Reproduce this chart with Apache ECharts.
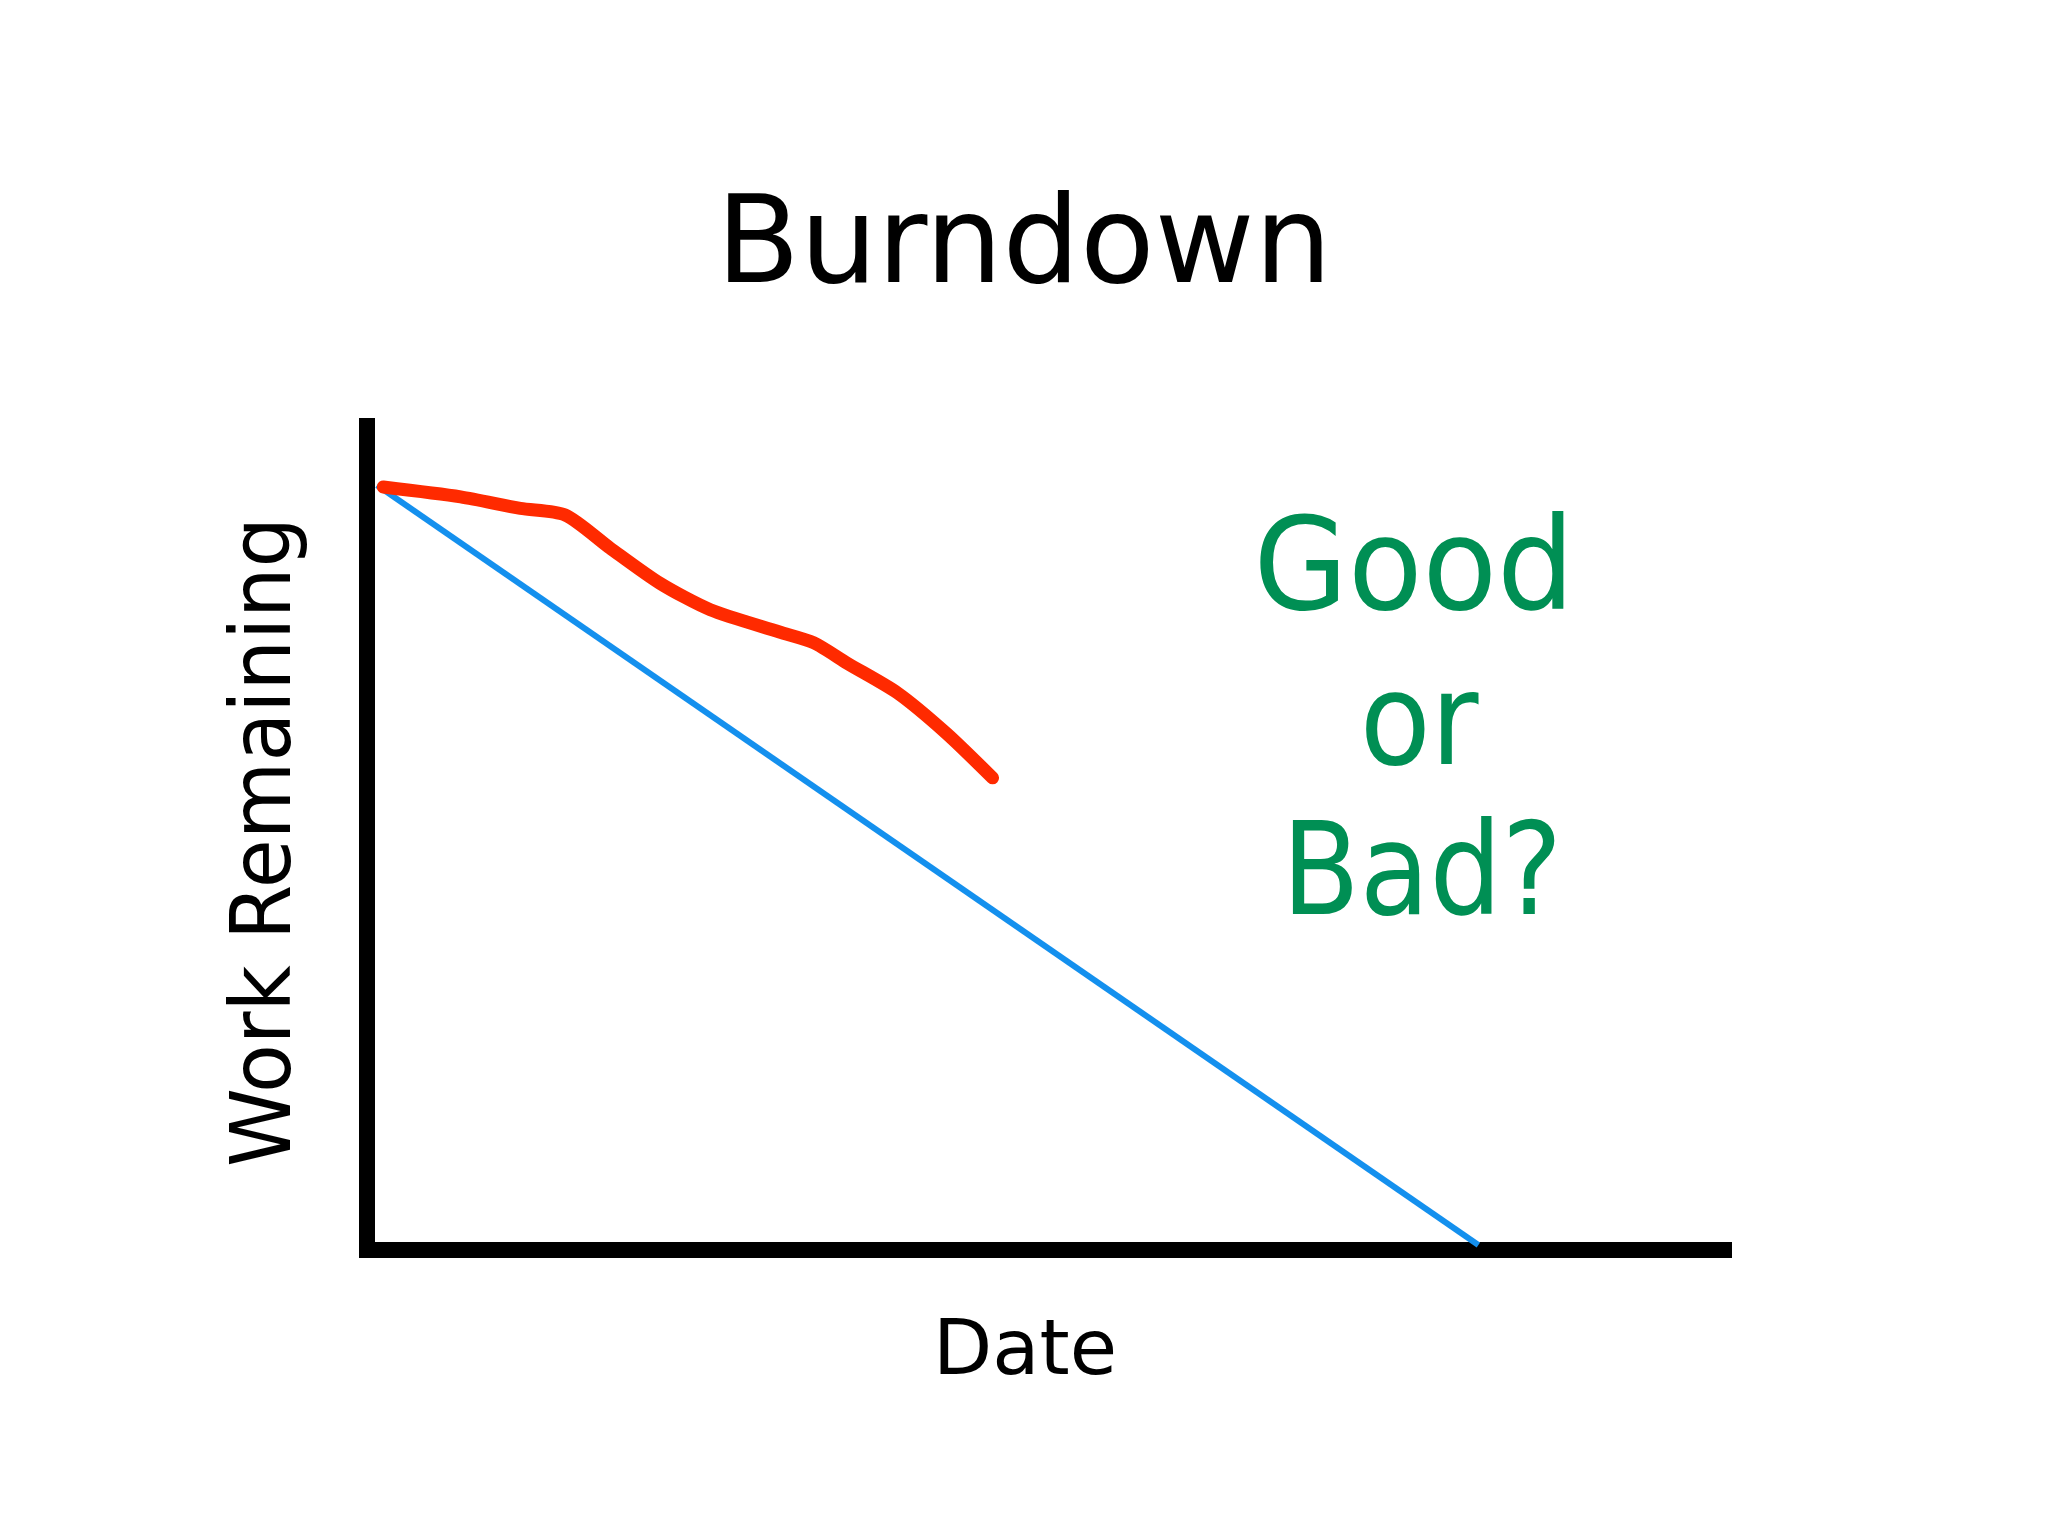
<!DOCTYPE html>
<html>
<head>
<meta charset="utf-8">
<style>
  html, body { margin: 0; padding: 0; background: #ffffff; }
  #chart { width: 2048px; height: 1536px; }
</style>
<script src="https://cdn.jsdelivr.net/npm/echarts@6/dist/echarts.min.js"></script>
</head>
<body>
<div id="chart"></div>
<script>
// ---- data ----
const titleText = 'Burndown';
const xAxisName = 'Date';
const yAxisName = 'Work Remaining';
const questionLines = ['Good', 'or', 'Bad?'];

// ideal burndown (date, work remaining)
const idealLine = [[0.74, 92.8], [81.9, 0.6]];

// actual burndown (date, work remaining)
const actualDates = [1.2, 6.9, 11.3, 14.6, 17.9, 21.6, 25.3, 30.4, 32.9, 35.4, 39.1, 42.7, 46.1];
const actualWork  = [92.6, 91.4, 90.0, 89.2, 85.2, 80.9, 77.7, 75.0, 73.7, 71.2, 67.6, 62.7, 57.3];

const actualLine = actualDates.map((d, i) => [d, actualWork[i]]);

const chart = echarts.init(document.getElementById('chart'), null, { renderer: 'canvas' });

const axisCommon = {
  type: 'value',
  min: 0,
  max: 100,
  axisLine: { show: true, onZero: false, lineStyle: { color: '#000000', width: 16, cap: 'square' } },
  axisTick: { show: false },
  axisLabel: { show: false },
  splitLine: { show: false }
};

const green = '#008f54';
const sans = '"DejaVu Sans", sans-serif';
const condensed = '"DejaVu Sans Condensed", "DejaVu Sans", sans-serif';

chart.setOption({
  backgroundColor: '#ffffff',
  animation: false,
  grid: { left: 367, right: 324, top: 426, bottom: 286 },
  xAxis: Object.assign({}, axisCommon),
  yAxis: Object.assign({}, axisCommon),
  series: [
    {
      name: 'Ideal',
      type: 'line',
      data: idealLine,
      symbol: 'none',
      lineStyle: { color: '#1490ee', width: 6 },
      z: 3
    },
    {
      name: 'Actual',
      type: 'line',
      data: actualLine,
      symbol: 'none',
      smooth: 0.25,
      lineStyle: { color: '#ff2a00', width: 13, cap: 'round', join: 'round' },
      z: 4
    }
  ],
  graphic: [
    {
      type: 'text', x: 1024, y: 250,
      style: { text: titleText, fontFamily: sans, fontSize: 122, fill: '#000000', textAlign: 'center', textVerticalAlign: 'middle' }
    },
    {
      type: 'text', x: 1025, y: 1354,
      style: { text: xAxisName, fontFamily: sans, fontSize: 77, fill: '#000000', textAlign: 'center', textVerticalAlign: 'middle' }
    },
    {
      type: 'text', x: 268, y: 842, rotation: Math.PI / 2, scaleX: 0.96,
      style: { text: yAxisName, fontFamily: sans, fontSize: 83, fill: '#000000', textAlign: 'center', textVerticalAlign: 'middle' }
    },
    {
      type: 'text', x: 1414, y: 575, scaleX: 1.05,
      style: { text: questionLines[0], fontFamily: condensed, fontSize: 129, fill: green, textAlign: 'center', textVerticalAlign: 'middle' }
    },
    {
      type: 'text', x: 1419, y: 730,
      style: { text: questionLines[1], fontFamily: condensed, fontSize: 129, fill: green, textAlign: 'center', textVerticalAlign: 'middle' }
    },
    {
      type: 'text', x: 1422, y: 880, scaleX: 0.98,
      style: { text: questionLines[2], fontFamily: condensed, fontSize: 129, fill: green, textAlign: 'center', textVerticalAlign: 'middle' }
    }
  ]
});
</script>
</body>
</html>
